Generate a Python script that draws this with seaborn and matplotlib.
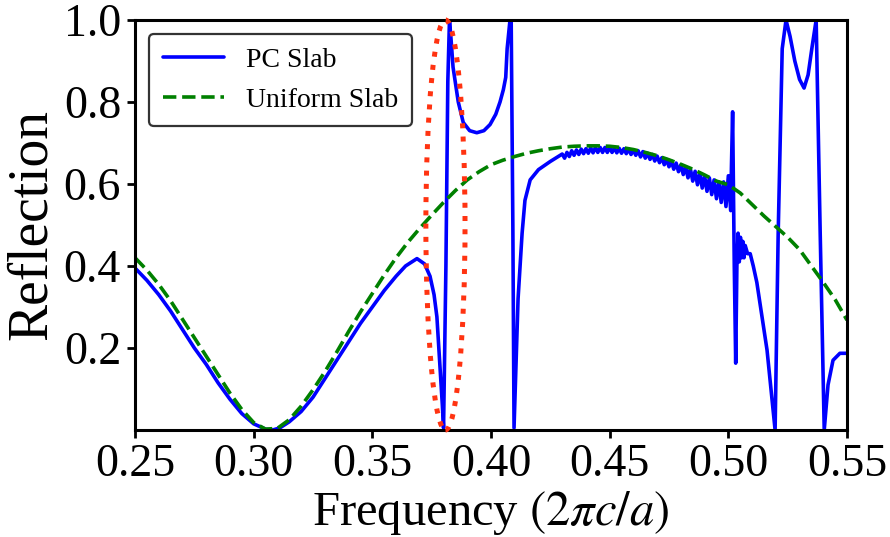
import matplotlib
matplotlib.use("Agg")
import matplotlib.pyplot as plt
import seaborn as sns
import pandas as pd
from matplotlib.patches import Ellipse

# ---------------- data ----------------
uniform_freq = [0.250, 0.255, 0.260, 0.265, 0.270, 0.275, 0.280, 0.285, 0.290, 0.295,
                0.300, 0.305, 0.310, 0.315, 0.320, 0.325, 0.330, 0.335, 0.340, 0.345,
                0.350, 0.355, 0.360, 0.365, 0.370, 0.375, 0.380, 0.385, 0.390, 0.395,
                0.400, 0.405, 0.410, 0.415, 0.420, 0.425, 0.430, 0.435, 0.440, 0.445,
                0.450, 0.455, 0.460, 0.465, 0.470, 0.475, 0.480, 0.485, 0.490, 0.495,
                0.500, 0.505, 0.510, 0.515, 0.520, 0.525, 0.530, 0.535, 0.540, 0.545,
                0.550]
uniform_refl = [0.420, 0.390, 0.355, 0.315, 0.270, 0.225, 0.180, 0.135, 0.090, 0.050,
                0.018, 0.002, 0.004, 0.025, 0.058, 0.098, 0.142, 0.190, 0.240, 0.288,
                0.333, 0.378, 0.420, 0.458, 0.492, 0.524, 0.555, 0.584, 0.610, 0.630,
                0.647, 0.658, 0.667, 0.675, 0.681, 0.686, 0.690, 0.692, 0.693, 0.693,
                0.692, 0.689, 0.684, 0.677, 0.669, 0.659, 0.648, 0.636, 0.622, 0.607,
                0.598, 0.578, 0.550, 0.522, 0.496, 0.470, 0.440, 0.400, 0.360, 0.318,
                0.268]

pc_freq = [0.250, 0.255, 0.260, 0.265, 0.270, 0.275, 0.280, 0.285, 0.290, 0.295,
           0.300, 0.305, 0.308, 0.311, 0.315, 0.320, 0.325, 0.330, 0.335, 0.340,
           0.345, 0.350, 0.355, 0.360, 0.364, 0.3688, 0.372, 0.3743, 0.3760, 0.3772,
           0.3785, 0.3795, 0.3800, 0.3810, 0.3818, 0.3825, 0.3832, 0.3840, 0.3862, 0.3883,
           0.3910, 0.3940, 0.3970, 0.3996, 0.4020, 0.4038, 0.4052, 0.4062, 0.4068, 0.4080,
           0.4085, 0.4092, 0.4097, 0.4105, 0.4114, 0.4131, 0.4143, 0.4165, 0.4200, 0.4250,
           0.430, 0.431, 0.432, 0.433, 0.434, 0.435, 0.436, 0.437, 0.438, 0.439,
           0.440, 0.441, 0.442, 0.443, 0.444, 0.445, 0.446, 0.447, 0.448, 0.449,
           0.450, 0.451, 0.452, 0.453, 0.454, 0.455, 0.456, 0.457, 0.458, 0.459,
           0.460, 0.461, 0.462, 0.463, 0.464, 0.465, 0.466, 0.467, 0.468, 0.469,
           0.470, 0.471, 0.472, 0.473, 0.474, 0.475, 0.476, 0.477, 0.478, 0.479,
           0.480, 0.481, 0.482, 0.483, 0.484, 0.485, 0.486, 0.487, 0.488, 0.489,
           0.490, 0.491, 0.492, 0.493, 0.494, 0.495, 0.496, 0.497, 0.498, 0.499,
           0.500, 0.501, 0.5013, 0.5018, 0.5025, 0.5031, 0.5036, 0.5041, 0.5046, 0.5051,
           0.5056, 0.5061, 0.5066, 0.5071, 0.5081, 0.5092, 0.5105, 0.5120, 0.5142, 0.5163,
           0.5184, 0.5197, 0.5210, 0.5227, 0.5243, 0.5260, 0.5280, 0.5300, 0.5319, 0.5336,
           0.5353, 0.5370, 0.5387, 0.5404, 0.5420, 0.5441, 0.5470, 0.5500]
pc_refl = [0.395, 0.365, 0.330, 0.290, 0.245, 0.200, 0.160, 0.115, 0.075, 0.040,
           0.015, 0.002, 0.000, 0.005, 0.020, 0.045, 0.080, 0.125, 0.170, 0.215,
           0.260, 0.300, 0.340, 0.375, 0.400, 0.418, 0.405, 0.375, 0.330, 0.276,
           0.155, 0.060, 0.005, 0.400, 0.850, 1.000, 0.950, 0.885, 0.800, 0.750,
           0.730, 0.725, 0.730, 0.745, 0.770, 0.800, 0.830, 0.860, 0.930, 1.000,
           1.000, 0.500, 0.005, 0.150, 0.320, 0.480, 0.560, 0.610, 0.635, 0.655,
           0.673, 0.663, 0.677, 0.667, 0.681, 0.670, 0.683, 0.672, 0.685, 0.674,
           0.686, 0.675, 0.688, 0.676, 0.689, 0.677, 0.689, 0.677, 0.689, 0.677,
           0.689, 0.677, 0.688, 0.676, 0.687, 0.675, 0.686, 0.674, 0.685, 0.672,
           0.683, 0.670, 0.681, 0.666, 0.679, 0.663, 0.675, 0.660, 0.672, 0.656,
           0.668, 0.652, 0.664, 0.647, 0.660, 0.642, 0.656, 0.636, 0.651, 0.630,
           0.647, 0.623, 0.642, 0.615, 0.637, 0.607, 0.631, 0.598, 0.626, 0.590,
           0.620, 0.582, 0.615, 0.574, 0.610, 0.564, 0.605, 0.555, 0.605, 0.545,
           0.620, 0.535, 0.640, 0.776, 0.400, 0.163, 0.400, 0.480, 0.410, 0.470,
           0.420, 0.460, 0.420, 0.450, 0.430, 0.430, 0.400, 0.360, 0.275, 0.195,
           0.073, 0.000, 0.480, 0.930, 1.000, 0.960, 0.900, 0.855, 0.834, 0.866,
           0.935, 1.000, 0.480, 0.000, 0.110, 0.170, 0.187, 0.187]

series_labels = ["PC Slab", "Uniform Slab"]
x_ticks = [0.25, 0.30, 0.35, 0.40, 0.45, 0.50, 0.55]
y_ticks = [0.2, 0.4, 0.6, 0.8, 1.0]

# ---------------- style ----------------
sns.set_style("ticks")
plt.rcParams['font.family'] = ['Liberation Serif', 'DejaVu Serif']
plt.rcParams['mathtext.fontset'] = 'stix'
plt.rcParams['text.color'] = 'black'
plt.rcParams['axes.labelcolor'] = 'black'
plt.rcParams['xtick.color'] = 'black'
plt.rcParams['ytick.color'] = 'black'

fig = plt.figure(figsize=(8.9, 5.37), dpi=100)
ax = fig.add_axes([0.1517, 0.1993, 0.8000, 0.7635])

pc_df = pd.DataFrame({"freq": pc_freq, "refl": pc_refl})
un_df = pd.DataFrame({"freq": uniform_freq, "refl": uniform_refl})

sns.lineplot(data=pc_df, x="freq", y="refl", ax=ax, color="blue", lw=2.6,
             sort=False, estimator=None, label=series_labels[0])
sns.lineplot(data=un_df, x="freq", y="refl", ax=ax, color="green", lw=2.6,
             linestyle="--", sort=False, estimator=None, label=series_labels[1])

ell = Ellipse((0.3808, 0.5), width=0.0165, height=1.0, angle=0, fill=False,
              edgecolor="#ff3311", linestyle=":", linewidth=3.6, clip_on=False, zorder=5)
ax.add_patch(ell)

ax.set_xlim(0.25, 0.55)
ax.set_ylim(0, 1.0)
ax.set_xticks(x_ticks)
ax.set_xticklabels([f"{t:.2f}" for t in x_ticks])
ax.set_yticks(y_ticks)
ax.set_yticklabels([f"{t:.1f}" for t in y_ticks])
ax.tick_params(axis="both", labelsize=33, width=2, length=6, colors="black",
               direction="out", pad=4)
for s in ax.spines.values():
    s.set_linewidth(2.2)
    s.set_color("black")

ax.set_xlabel(r"Frequency $(2\pi c/a)$", fontsize=35, labelpad=2)
ax.set_ylabel("Reflection", fontsize=40, labelpad=4)

leg = ax.legend(loc="upper left", fontsize=20, frameon=True, fancybox=True,
                framealpha=1, edgecolor="#333333", handlelength=2.2,
                borderpad=0.5, labelspacing=0.5)
leg.get_frame().set_linewidth(1.6)
for t in leg.get_texts():
    t.set_color("black")

fig.savefig("out.png", dpi=100)
